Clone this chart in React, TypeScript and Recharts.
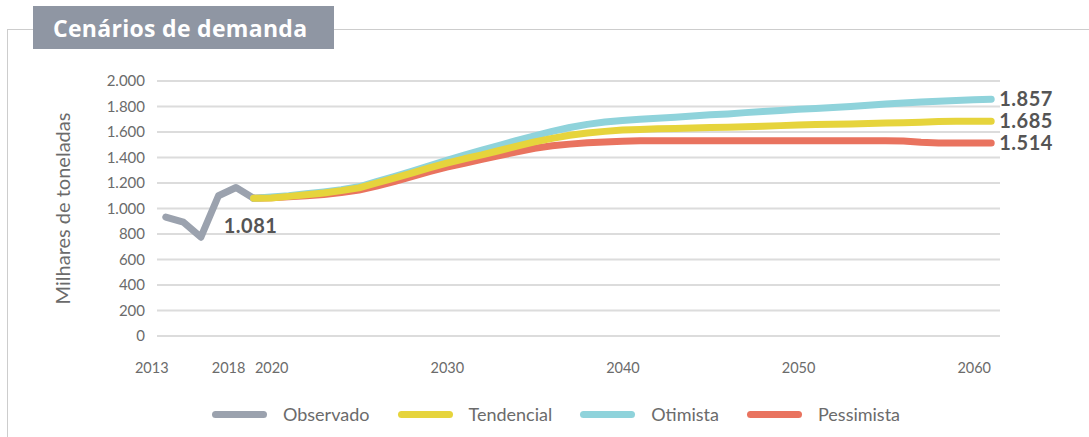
import React from "react";
import { LineChart, Line, XAxis, YAxis, CartesianGrid, LabelList } from "recharts";

// Historical demand, thousand tonnes
const observedYears = [2013, 2014, 2015, 2016, 2017, 2018];
const observedValues = [933, 893, 775, 1100, 1165, 1081];

// Scenario projections, 2018-2060
const scenarioYears = [
  2018, 2019, 2020, 2021, 2022, 2023, 2024, 2025, 2026, 2027, 2028, 2029, 2030, 2031, 2032,
  2033, 2034, 2035, 2036, 2037, 2038, 2039, 2040, 2041, 2042, 2043, 2044, 2045, 2046, 2047,
  2048, 2049, 2050, 2051, 2052, 2053, 2054, 2055, 2056, 2057, 2058, 2059, 2060,
];
const tendencial = [
  1081, 1083, 1095, 1108, 1122, 1140, 1162, 1200, 1238, 1278, 1318, 1355, 1390, 1420, 1455,
  1490, 1522, 1550, 1575, 1592, 1605, 1615, 1620, 1625, 1628, 1632, 1635, 1638, 1642, 1645,
  1650, 1655, 1658, 1660, 1663, 1666, 1670, 1672, 1676, 1682, 1685, 1685, 1685,
];
const otimista = [
  1081, 1090, 1100, 1115, 1130, 1148, 1170, 1210, 1250, 1292, 1335, 1378, 1418, 1458, 1495,
  1535, 1570, 1605, 1635, 1660, 1678, 1690, 1700, 1708, 1715, 1725, 1735, 1742, 1752, 1760,
  1768, 1778, 1785, 1792, 1800, 1810, 1820, 1828, 1835, 1842, 1848, 1852, 1857,
];
const pessimista = [
  1081, 1085, 1092, 1100, 1110, 1125, 1145, 1175, 1210, 1250, 1290, 1325, 1355, 1385, 1415,
  1445, 1472, 1492, 1505, 1515, 1522, 1528, 1532, 1532, 1532, 1532, 1532, 1532, 1532, 1532,
  1532, 1532, 1532, 1532, 1532, 1532, 1532, 1530, 1520, 1514, 1514, 1514, 1514,
];

const yTicks = [0, 200, 400, 600, 800, 1000, 1200, 1400, 1600, 1800, 2000];
const xTicks = [2013, 2018, 2020, 2030, 2040, 2050, 2060];

const COLORS = {
  observado: "#9ba2ae",
  tendencial: "#e6d43c",
  otimista: "#8fd3db",
  pessimista: "#e9735f",
};

const legendItems = [
  { name: "Observado", color: COLORS.observado },
  { name: "Tendencial", color: COLORS.tendencial },
  { name: "Otimista", color: COLORS.otimista },
  { name: "Pessimista", color: COLORS.pessimista },
];

const allYears = Array.from(new Set([...observedYears, ...scenarioYears])).sort((a, b) => a - b);
const chartData = allYears.map((year) => {
  const oi = observedYears.indexOf(year);
  const si = scenarioYears.indexOf(year);
  return {
    year,
    observado: oi >= 0 ? observedValues[oi] : undefined,
    tendencial: si >= 0 ? tendencial[si] : undefined,
    otimista: si >= 0 ? otimista[si] : undefined,
    pessimista: si >= 0 ? pessimista[si] : undefined,
  };
});

const fmt = (v: number) => String(v).replace(/\B(?=(\d{3})+(?!\d))/g, ".");

const FONT = "Lato, 'Open Sans', sans-serif";
const TEXT = "#6b6b6b";

// year labels sit a bit left of their points
const tickShift: Record<number, number> = { 2013: -14, 2018: -25 };

const YearTick = (props: any) => {
  const { x, y, payload } = props;
  const dx = tickShift[payload.value] ?? -17;
  return (
    <text x={x + dx} y={y} dy="0.35em" textAnchor="middle" fill={TEXT} fontSize={14.5} fontFamily={FONT}>
      {payload.value}
    </text>
  );
};

const endLabel = (lastIndex: number) => (props: any) => {
  const { x, y, index, value } = props;
  if (index !== lastIndex || value == null) return null;
  return (
    <text x={x + 8} y={y} dy="0.36em" fill="#555" fontSize={20} fontWeight={700} fontFamily={FONT} letterSpacing={0.5}>
      {fmt(value)}
    </text>
  );
};

const observedLabel = (props: any) => {
  const { x, y, index, value } = props;
  if (index !== observedYears.length - 1 || value == null) return null;
  return (
    <text x={x - 3} y={y + 28} dy="0.36em" textAnchor="middle" fill="#555" fontSize={20} fontWeight={700} fontFamily={FONT} letterSpacing={0.5}>
      {fmt(value)}
    </text>
  );
};

export default function App() {
  const last = allYears.length - 1;
  const lineProps = {
    type: "linear" as const,
    strokeWidth: 7,
    strokeLinecap: "round" as const,
    strokeLinejoin: "round" as const,
    dot: false,
    activeDot: false,
    isAnimationActive: false,
  };

  return (
    <div style={{ position: "absolute", left: 0, top: 0, width: 1089, height: 437, background: "#fff", overflow: "hidden" }}>
      {/* frame */}
      <div
        style={{
          position: "absolute",
          left: 7,
          top: 29,
          width: 1090,
          height: 420,
          borderTop: "1.5px solid #cdcdcd",
          borderLeft: "1.5px solid #cdcdcd",
        }}
      />
      {/* title tab */}
      <div
        style={{
          position: "absolute",
          left: 33,
          top: 6,
          width: 301,
          height: 43,
          background: "#8f96a3",
          color: "#fff",
          fontFamily: "'Open Sans', sans-serif",
          fontWeight: 700,
          fontSize: 23,
          lineHeight: "45px",
          paddingLeft: 20,
          boxSizing: "border-box",
          letterSpacing: 0.3,
          whiteSpace: "nowrap",
        }}
      >
        Cenários de demanda
      </div>

      <div style={{ position: "absolute", left: 0, top: 0 }}>
        <LineChart width={1089} height={437} data={chartData} margin={{ top: 81, right: 89, bottom: 71, left: 97 }}>
          <CartesianGrid horizontal vertical={false} stroke="#dcdcdc" strokeWidth={2} />
          <XAxis
            dataKey="year"
            type="number"
            domain={[2012.5, 2060.5]}
            ticks={xTicks}
            height={30}
            axisLine={false}
            tickLine={false}
            tickSize={0}
            tickMargin={32}
            tick={<YearTick />}
            interval={0}
          />
          <YAxis
            domain={[0, 2000]}
            ticks={yTicks}
            width={60}
            axisLine={false}
            tickLine={false}
            tickSize={0}
            tickMargin={12}
            tickFormatter={fmt}
            tick={{ fill: TEXT, fontSize: 15, fontFamily: FONT }}
            label={({ viewBox }: any) => (
              <text
                x={63}
                y={viewBox.y + viewBox.height / 2}
                transform={`rotate(-90 63 ${viewBox.y + viewBox.height / 2})`}
                textAnchor="middle"
                dy="0.35em"
                fill={TEXT}
                fontSize={20}
                fontFamily={FONT}
              >
                Milhares de toneladas
              </text>
            )}
          />
          <Line {...lineProps} dataKey="observado" stroke={COLORS.observado}>
            <LabelList dataKey="observado" content={observedLabel} />
          </Line>
          <Line {...lineProps} dataKey="pessimista" stroke={COLORS.pessimista}>
            <LabelList dataKey="pessimista" content={endLabel(last)} />
          </Line>
          <Line {...lineProps} dataKey="otimista" stroke={COLORS.otimista}>
            <LabelList dataKey="otimista" content={endLabel(last)} />
          </Line>
          <Line {...lineProps} dataKey="tendencial" stroke={COLORS.tendencial}>
            <LabelList dataKey="tendencial" content={endLabel(last)} />
          </Line>
        </LineChart>
      </div>

      {/* legend */}
      <div
        style={{
          position: "absolute",
          left: 212,
          top: 403,
          display: "flex",
          alignItems: "center",
          fontFamily: FONT,
          fontSize: 18,
          color: TEXT,
        }}
      >
        {legendItems.map((item) => (
          <div key={item.name} style={{ display: "flex", alignItems: "center", marginRight: 28 }}>
            <span
              style={{
                display: "inline-block",
                width: 55,
                height: 7,
                borderRadius: 4,
                background: item.color,
                marginRight: 16,
              }}
            />
            <span>{item.name}</span>
          </div>
        ))}
      </div>
    </div>
  );
}
